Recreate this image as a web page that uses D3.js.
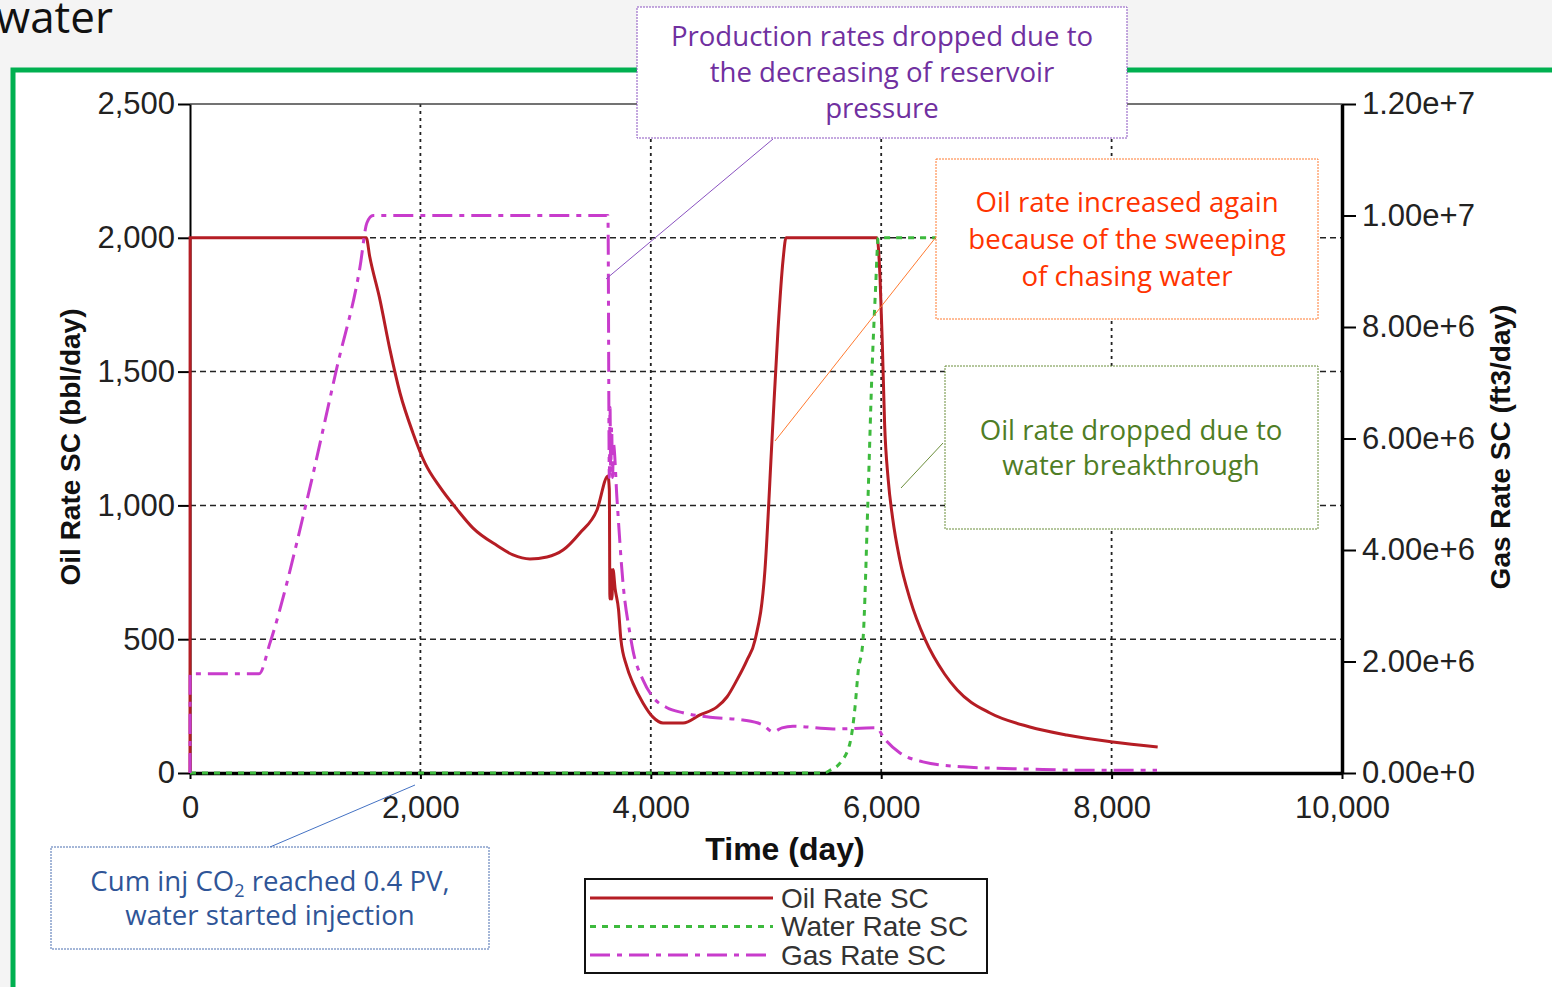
<!DOCTYPE html>
<html>
<head>
<meta charset="utf-8">
<script src="https://cdn.jsdelivr.net/npm/d3@7"></script>
<style>
body { margin: 0; overflow: hidden; background: #f4f4f4; }
</style>
</head>
<body>
<div id="chart"></div>
<script>
// values: [day, rate]
var oilRate = [[0,0],[1,2000],[1530,2000],[1560,1930],[1649,1768],[1736,1581],[1823,1420],[1936,1270],[2040,1158],
  [2170,1068],[2318,985],[2457,915],[2665,850],[2804,815],[2951,800],[3099,807],[3238,833],[3385,897],[3533,983],
  [3628,1110],[3640,1060],[3645,650],[3655,760],[3662,650],[3672,760],[3690,690],[3720,610],[3740,500],[3790,400],
  [3845,336],[3932,262],[4019,209],[4106,187],[4280,187],[4427,217],[4575,247],[4661,284],[4748,348],[4835,422],
  [4905,497],[4991,759],[5052,1244],[5104,1655],[5148,1917],[5174,2000],[5964,2000],[5990,1850],[6010,1600],
  [6030,1300],[6060,1100],[6100,950],[6160,800],[6250,650],[6380,500],[6550,370],[6660,310],[6940,225],[7290,172],
  [7610,142],[8010,116],[8400,97]];

var waterRate = [[0,0],[5500,0],[5556,10],[5642,37],[5729,112],[5773,247],[5799,374],[5842,497],[5885,1020],
  [5920,1500],[5950,1800],[5975,2000],[8400,2000]];

var gasRate = [[0,0],[1,1.78e6],[600,1.78e6],[694,2.33e6],[1016,4.9e6],[1276,7.28e6],[1476,9.08e6],[1536,9.87e6],
  [1589,1.0e7],[3628,1.0e7],[3640,5.3e6],[3646,6.56e6],[3652,5.4e6],[3660,6.2e6],[3668,5.3e6],[3676,5.9e6],
  [3707,4.9e6],[3759,3.4e6],[3819,2.5e6],[3845,2.2e6],[3932,1.67e6],[4019,1.36e6],[4141,1.17e6],[4280,1.08e6],
  [4514,1.0e6],[4800,0.95e6],[4974,0.86e6],[5061,0.74e6],[5139,0.81e6],[5234,0.84e6],[5582,0.79e6],[5964,0.81e6],
  [6016,0.65e6],[6163,0.36e6],[6363,0.2e6],[6710,0.11e6],[7292,0.07e6],[7726,0.05e6],[8394,0.05e6]];

var leftTicks = [0, 500, 1000, 1500, 2000, 2500];
var rightTicks = [0, 2e6, 4e6, 6e6, 8e6, 1e7, 1.2e7];
var timeTicks = [0, 2000, 4000, 6000, 8000, 10000];
var legendNames = ["Oil Rate SC", "Water Rate SC", "Gas Rate SC"];

var notePurple = ["Production rates dropped due to", "the decreasing of reservoir", "pressure"];
var noteOrange = ["Oil rate increased again", "because of the sweeping", "of chasing water"];
var noteGreen = ["Oil rate dropped due to", "water breakthrough"];

var W = 1552, H = 987;
var oilColor = "#b51d24", waterColor = "#3dba3d", gasColor = "#c83ccc";
var axisFont = "'Liberation Sans', Arial, sans-serif";
var noteFont = "'Open Sans', 'Noto Sans', sans-serif";

var svg = d3.select("#chart").append("svg")
    .attr("width", W)
    .attr("height", H);

// slide background and green frame
svg.append("rect").attr("width", W).attr("height", H).attr("fill", "#f4f4f4");
svg.append("rect").attr("x", 13).attr("y", 70).attr("width", W - 13).attr("height", H - 70).attr("fill", "#ffffff");
svg.append("path").attr("d", "M13," + H + " V70 H" + W)
    .attr("fill", "none").attr("stroke", "#00b050").attr("stroke-width", 5);

svg.append("text")
    .attr("x", 113).attr("y", 33)
    .attr("text-anchor", "end")
    .attr("font-family", noteFont)
    .attr("font-size", 44)
    .attr("fill", "#111")
    .text("water");

var x = d3.scaleLinear().domain([0, 10000]).range([190, 1342]);
var yL = d3.scaleLinear().domain([0, 2500]).range([773, 104]);
var yR = d3.scaleLinear().domain([0, 1.2e7]).range([773, 104]);

// grid
svg.selectAll(".hgrid").data(leftTicks.slice(1, 5)).enter().append("line")
    .attr("x1", 190).attr("x2", 1342)
    .attr("y1", function(d) { return yL(d); }).attr("y2", function(d) { return yL(d); })
    .attr("stroke", "#222").attr("stroke-width", 1.5).attr("stroke-dasharray", "6,4");
svg.selectAll(".vgrid").data(timeTicks.slice(1, 5)).enter().append("line")
    .attr("x1", function(d) { return x(d); }).attr("x2", function(d) { return x(d); })
    .attr("y1", 104).attr("y2", 773)
    .attr("stroke", "#222").attr("stroke-width", 1.8).attr("stroke-dasharray", "3,4");

// top border
svg.append("line").attr("x1", 190).attr("x2", 1342).attr("y1", 104).attr("y2", 104)
    .attr("stroke", "#444").attr("stroke-width", 1.5);

// axes
function styleAxis(g, width) {
  g.select(".domain").attr("stroke", "#000").attr("stroke-width", width);
  g.selectAll(".tick line").attr("stroke", "#000").attr("stroke-width", 2);
  g.selectAll("text").attr("font-family", axisFont).attr("font-size", 31).attr("fill", "#222");
}

var gl = svg.append("g").attr("transform", "translate(190,0)")
    .call(d3.axisLeft(yL).tickValues(leftTicks).tickFormat(d3.format(",")).tickSize(12).tickSizeOuter(0).tickPadding(3));
styleAxis(gl, 2);

var gr = svg.append("g").attr("transform", "translate(1342,0)")
    .call(d3.axisRight(yR).tickValues(rightTicks).tickFormat(d3.format(".2e")).tickSize(14).tickSizeOuter(0).tickPadding(6));
styleAxis(gr, 3.5);

var gb = svg.append("g").attr("transform", "translate(0,773)")
    .call(d3.axisBottom(x).tickValues(timeTicks).tickFormat(d3.format(",")).tickSize(6).tickSizeOuter(0).tickPadding(17));
styleAxis(gb, 3.5);

// axis titles
svg.append("text")
    .attr("transform", "translate(80,447) rotate(-90)")
    .attr("text-anchor", "middle")
    .attr("font-family", axisFont).attr("font-weight", "bold").attr("font-size", 28).attr("fill", "#111")
    .text("Oil Rate SC (bbl/day)");
svg.append("text")
    .attr("transform", "translate(1510,447) rotate(-90)")
    .attr("text-anchor", "middle")
    .attr("font-family", axisFont).attr("font-weight", "bold").attr("font-size", 28).attr("fill", "#111")
    .text("Gas Rate SC (ft3/day)");
svg.append("text")
    .attr("x", 785).attr("y", 860)
    .attr("text-anchor", "middle")
    .attr("font-family", axisFont).attr("font-weight", "bold").attr("font-size", 32).attr("fill", "#111")
    .text("Time (day)");

// series
var lineL = d3.line().curve(d3.curveMonotoneX).x(function(d) { return x(d[0]); }).y(function(d) { return yL(d[1]); });
var lineR = d3.line().curve(d3.curveMonotoneX).x(function(d) { return x(d[0]); }).y(function(d) { return yR(d[1]); });

svg.append("path").datum(oilRate).attr("d", lineL)
    .attr("fill", "none").attr("stroke", oilColor).attr("stroke-width", 3);
svg.append("path").datum(waterRate).attr("d", lineL)
    .attr("fill", "none").attr("stroke", waterColor).attr("stroke-width", 3).attr("stroke-dasharray", "6,6");
svg.append("path").datum(gasRate).attr("d", lineR)
    .attr("fill", "none").attr("stroke", gasColor).attr("stroke-width", 3).attr("stroke-dasharray", "20,7,5,7");

// legend
var legend = svg.append("g");
legend.append("rect").attr("x", 585).attr("y", 879).attr("width", 402).attr("height", 94)
    .attr("fill", "#fff").attr("stroke", "#111").attr("stroke-width", 2);
var dashes = [null, "6,6", "20,7,5,7"];
var colors = [oilColor, waterColor, gasColor];
legendNames.forEach(function(name, i) {
  var yy = 898 + i * 28.5;
  legend.append("line").attr("x1", 590).attr("x2", 773).attr("y1", yy).attr("y2", yy)
      .attr("stroke", colors[i]).attr("stroke-width", 3).attr("stroke-dasharray", dashes[i]);
  legend.append("text").attr("x", 781).attr("y", yy).attr("dy", "0.35em")
      .attr("font-family", axisFont).attr("font-size", 28).attr("fill", "#333").text(name);
});

// annotations
function note(box, lines, cx, cy0, step, color, border, leader) {
  svg.append("line").attr("x1", leader[0]).attr("y1", leader[1]).attr("x2", leader[2]).attr("y2", leader[3])
      .attr("stroke", border).attr("stroke-width", 1);
  svg.append("rect").attr("x", box[0]).attr("y", box[1]).attr("width", box[2] - box[0]).attr("height", box[3] - box[1])
      .attr("fill", "#fff").attr("stroke", border).attr("stroke-width", 1).attr("stroke-dasharray", "2,1");
  var t = svg.append("text").attr("text-anchor", "middle")
      .attr("font-family", noteFont).attr("font-size", 27.6).attr("fill", color);
  lines.forEach(function(s, i) {
    t.append("tspan").attr("x", cx).attr("y", cy0 + i * step).attr("dy", "0.35em").text(s);
  });
  return t;
}

note([637, 7, 1127, 138], notePurple, 882, 36, 36, "#7030a0", "#8a52c0", [773, 139, 606, 279]);
note([936, 159, 1318, 319], noteOrange, 1127, 202, 37, "#ff3300", "#ff7a30", [940, 232, 775, 441]);
note([945, 366, 1318, 529], noteGreen, 1131, 430, 35, "#4f7d25", "#6b8e3a", [943, 443, 901, 488]);

svg.append("line").attr("x1", 270).attr("y1", 847).attr("x2", 415).attr("y2", 785)
    .attr("stroke", "#4472c4").attr("stroke-width", 1);
svg.append("rect").attr("x", 51).attr("y", 847).attr("width", 438).attr("height", 102)
    .attr("fill", "#fff").attr("stroke", "#4a6fb0").attr("stroke-width", 1).attr("stroke-dasharray", "2,1");
var blue = svg.append("text").attr("text-anchor", "middle")
    .attr("font-family", noteFont).attr("font-size", 27.6).attr("fill", "#2f5597");
var l1 = blue.append("tspan").attr("x", 270).attr("y", 881).attr("dy", "0.35em");
l1.append("tspan").text("Cum inj CO");
l1.append("tspan").attr("font-size", 18).attr("dy", 6).text("2");
l1.append("tspan").attr("dy", -6).text(" reached 0.4 PV,");
blue.append("tspan").attr("x", 270).attr("y", 915).attr("dy", "0.35em").text("water started injection");
</script>
</body>
</html>
